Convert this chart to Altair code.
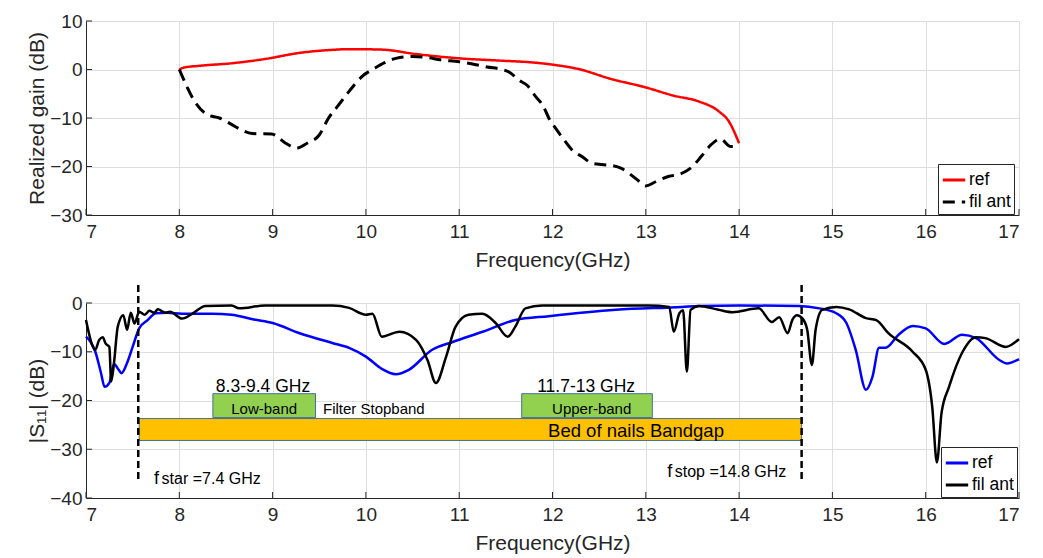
import altair as alt
import pandas as pd

FONT = "Liberation Sans"
W = 933
H1 = 194
H2 = 195

# ---------------- data: realized gain (top panel) ----------------
ref_gain_f = [8.0, 8.05, 8.21, 8.57, 8.93, 9.28, 9.64, 9.82, 10.17, 10.53, 11.0, 11.42,
              11.82, 12.0, 12.3, 12.6, 13.0, 13.3, 13.57, 13.78, 13.89, 14.0]
ref_gain = [0.0, 0.4, 0.75, 1.3, 2.2, 3.4, 4.05, 4.2, 4.1, 3.2, 2.3, 1.85,
            1.4, 1.0, 0.0, -1.8, -3.7, -5.4, -6.6, -8.6, -10.7, -15.2]

fil_gain_f = [8.0, 8.18, 8.3, 8.43, 8.55, 8.66, 8.78, 8.99, 9.14, 9.26, 9.37, 9.5, 9.6,
              9.7, 9.82, 9.96, 10.09, 10.2, 10.32, 10.5, 10.65, 10.8, 11.0, 11.13, 11.3,
              11.46, 11.55, 11.64, 11.73, 11.82, 11.9, 11.96, 12.04, 12.12, 12.2, 12.32,
              12.42, 12.53, 12.64, 12.74, 12.9, 13.0, 13.12, 13.25, 13.36, 13.5, 13.6,
              13.7, 13.8, 13.91, 14.0]
fil_gain = [0.0, -7.0, -9.3, -10.0, -11.2, -12.4, -13.2, -13.3, -15.2, -16.2, -15.2, -13.5,
            -10.0, -7.5, -4.5, -1.4, 0.2, 1.4, 2.3, 2.7, 2.5, 2.0, 1.6, 1.2, 0.5,
            0.0, -0.7, -2.2, -3.3, -5.6, -7.5, -10.0, -12.3, -14.4, -16.4, -18.0,
            -19.3, -19.6, -19.8, -20.4, -22.6, -24.0, -23.0, -22.0, -21.6, -20.0, -17.8,
            -15.5, -14.3, -15.9, -15.8]

# ---------------- data: |S11| (bottom panel) ----------------
ref_s11_f = [7.0, 7.05, 7.1, 7.16, 7.2, 7.25, 7.3, 7.35, 7.38, 7.44, 7.5, 7.57, 7.66, 7.75,
             7.86, 8.03, 8.35, 8.56, 8.8, 9.0, 9.29, 9.64, 9.82, 10.0, 10.17, 10.32, 10.46,
             10.71, 10.93, 11.25, 11.6, 11.96, 12.68, 13.39, 13.57, 14.0, 14.64, 14.86,
             15.04, 15.15, 15.25, 15.36, 15.43, 15.5, 15.57, 15.71, 15.86, 16.0, 16.2,
             16.39, 16.54, 16.79, 16.87, 17.0]
ref_s11 = [-6.9, -8.0, -10.0, -14.3, -17.2, -16.4, -12.5, -13.7, -14.4, -12.3, -9.0, -5.2,
           -3.5, -2.1, -2.0, -2.2, -2.2, -2.4, -3.4, -4.1, -6.2, -8.2, -9.2, -11.0, -13.5,
           -14.6, -13.7, -9.6, -8.0, -5.9, -3.5, -2.7, -1.4, -0.8, -0.6, -0.5, -0.6, -1.1,
           -2.1, -4.1, -9.6, -17.8, -15.1, -9.2, -9.2, -6.5, -4.7, -5.2, -8.4, -6.5, -7.2,
           -11.7, -12.4, -11.5]

fil_s11_f = [7.0, 7.1, 7.14, 7.18, 7.21, 7.25, 7.27, 7.3, 7.34, 7.4, 7.44, 7.48, 7.52,
             7.57, 7.63, 7.68, 7.73, 7.77, 7.85, 7.9, 8.03, 8.14, 8.28, 8.56, 8.64, 8.92,
             9.64, 9.82, 10.0, 10.07, 10.17, 10.36, 10.54, 10.66, 10.75, 10.86, 10.96,
             11.1, 11.25, 11.39, 11.52, 11.6, 11.71, 11.89, 13.03, 13.25, 13.3, 13.36,
             13.4, 13.44, 13.48, 13.57, 13.78, 13.93, 14.21, 14.35, 14.43, 14.52, 14.57,
             14.62, 14.68, 14.73, 14.78, 14.82, 14.89, 15.04, 15.18, 15.36, 15.47, 15.6,
             15.86, 16.0, 16.07, 16.12, 16.17, 16.25, 16.39, 16.54, 16.64, 16.86, 17.0]
fil_s11 = [-3.5, -9.6, -7.6, -7.0, -8.3, -9.0, -16.1, -12.3, -4.9, -2.5, -5.5, -2.0, -4.2,
           -1.8, -2.4, -1.6, -2.0, -1.3, -2.0, -1.8, -3.2, -2.2, -0.6, -0.5, -1.1, -0.5,
           -0.5, -1.0, -2.4, -2.2, -6.9, -5.9, -7.6, -11.7, -16.4, -11.0, -4.9,
           -2.4, -2.2, -4.1, -6.9, -4.9, -1.1, -0.5, -0.5, -0.8, -5.9, -2.1,
           -1.5, -14.1, -1.4, -0.6, -1.4, -1.9, -1.1, -3.9, -2.9, -6.2, -3.5,
           -2.5, -3.2, -5.5, -12.7, -5.5, -1.4, -0.8, -1.3, -3.1, -3.5, -6.2,
           -10.0, -13.7, -21.3, -32.7, -22.5, -17.2, -10.2, -7.0, -7.2, -9.0, -7.4]

series_names = ["ref", "fil ant"]
x_ticks = [7, 8, 9, 10, 11, 12, 13, 14, 15, 16, 17]
y_ticks_top = [-30, -20, -10, 0, 10]
y_ticks_bot = [-40, -30, -20, -10, 0]

# ---------------- annotations (bottom panel) ----------------
band_x1 = [8.36, 11.67]
band_x2 = [9.46, 13.07]
band_y1 = [-18.6, -18.6]
band_y2 = [-23.5, -23.5]
gap_x1, gap_x2, gap_y1, gap_y2 = [7.57], [14.67], [-23.7], [-28.2]
edge_x = [7.56, 14.67]
edge_y1, edge_y2 = 3.7, -36.2

center_txt = ["8.3-9.4 GHz", "Low-band", "11.7-13 GHz", "Upper-band", "Bed of nails Bandgap"]
center_x = [8.897, 8.91, 12.36, 12.42, 12.895]
center_y = [-17.2, -21.7, -17.2, -21.7, -26.2]
center_sz = [17.5, 15, 17.5, 15, 18.5]

left_txt = ["Filter Stopband", "f", "star =7.4 GHz", "f", "stop =14.8 GHz"]
left_x = [9.54, 7.73, 7.81, 13.23, 13.31]
left_y = [-21.7, -36.0, -36.0, -34.6, -34.6]
left_sz = [15, 18, 16, 18, 16]

# ---------------- frames ----------------
gain_df = pd.concat([
    pd.DataFrame({"f": ref_gain_f, "v": ref_gain, "series": "ref"}),
    pd.DataFrame({"f": fil_gain_f, "v": fil_gain, "series": "fil ant"}),
])
s11_df = pd.concat([
    pd.DataFrame({"f": ref_s11_f, "v": ref_s11, "series": "ref"}),
    pd.DataFrame({"f": fil_s11_f, "v": fil_s11, "series": "fil ant"}),
])

AX = "#262626"


def x_enc(title):
    return alt.X("f:Q", scale=alt.Scale(domain=[7, 17], nice=False, zero=False),
                 axis=alt.Axis(values=x_ticks, title=title, format="d"))


def tick_layers(yvals, height):
    xt = alt.Chart(pd.DataFrame({"t": x_ticks})).mark_rule(color=AX, strokeWidth=1).encode(
        x=alt.X("t:Q", scale=alt.Scale(domain=[7, 17], nice=False)),
        y=alt.value(height), y2=alt.value(height - 6))
    yt = alt.Chart(pd.DataFrame({"t": yvals})).mark_rule(color=AX, strokeWidth=1).encode(
        y=alt.Y("t:Q"), x=alt.value(0), x2=alt.value(6))
    return xt, yt


def legend(lx, ly):
    return alt.Legend(title=None, orient="none", legendX=lx, legendY=ly,
                      strokeColor=AX, fillColor="white", padding=3, cornerRadius=0,
                      symbolType="stroke", symbolSize=500, symbolStrokeWidth=3,
                      labelFontSize=17.5, labelFont=FONT, labelColor="black",
                      rowPadding=0, labelOffset=2)


# ---------------- top panel ----------------
ytop = alt.Y("v:Q", scale=alt.Scale(domain=[-30, 10], nice=False),
             axis=alt.Axis(values=y_ticks_top, title="Realized gain (dB)"))
col_top = alt.Color("series:N", scale=alt.Scale(domain=series_names, range=["#ff0000", "#000000"]),
                    legend=legend(852, 143))
dash_top = alt.StrokeDash("series:N", scale=alt.Scale(domain=series_names, range=[[1, 0], [12, 7]]),
                          legend=legend(852, 143))

base_top = alt.Chart(gain_df).encode(x=x_enc("Frequency(GHz)"), y=ytop, color=col_top,
                                     strokeDash=dash_top)
top_ref = base_top.transform_filter(alt.datum.series == "ref").mark_line(
    strokeWidth=2.5, interpolate="monotone")
top_fil = base_top.transform_filter(alt.datum.series == "fil ant").mark_line(
    strokeWidth=3, interpolate="monotone")
xt1, yt1 = tick_layers(y_ticks_top, H1)
top = alt.layer(xt1, yt1, top_ref, top_fil).properties(width=W, height=H1)

# ---------------- bottom panel ----------------
ybot = alt.Y("v:Q", scale=alt.Scale(domain=[-40, 0], nice=False),
             axis=alt.Axis(values=y_ticks_bot, title="|S\u2081\u2081| (dB)"))
col_bot = alt.Color("series:N", scale=alt.Scale(domain=series_names, range=["#0000ff", "#000000"]),
                    legend=legend(855, 144))
base_bot = alt.Chart(s11_df).encode(x=x_enc("Frequency(GHz)"), y=ybot, color=col_bot)
bot_ref = base_bot.transform_filter(alt.datum.series == "ref").mark_line(
    strokeWidth=2.5, interpolate="monotone")
bot_fil = base_bot.transform_filter(alt.datum.series == "fil ant").mark_line(
    strokeWidth=2.5, interpolate="monotone")

gap = alt.Chart(pd.DataFrame({"x1": gap_x1, "x2": gap_x2, "y1": gap_y1, "y2": gap_y2})).mark_rect(
    fill="#ffc000", stroke="#41719c", strokeWidth=1).encode(
    x="x1:Q", x2="x2:Q", y="y1:Q", y2="y2:Q")
bands = alt.Chart(pd.DataFrame({"x1": band_x1, "x2": band_x2, "y1": band_y1, "y2": band_y2})).mark_rect(
    fill="#92d050", stroke="#41719c", strokeWidth=1).encode(
    x="x1:Q", x2="x2:Q", y="y1:Q", y2="y2:Q")
edges = alt.Chart(pd.DataFrame({"x": edge_x, "y1": edge_y1, "y2": edge_y2})).mark_rule(
    color="black", strokeWidth=2.5, strokeDash=[7, 4], clip=False).encode(
    x="x:Q", y="y1:Q", y2="y2:Q")
ctext = alt.Chart(pd.DataFrame({"t": center_txt, "x": center_x, "y": center_y, "s": center_sz})).mark_text(
    align="center", baseline="middle", font=FONT, color="black").encode(
    x="x:Q", y="y:Q", text="t:N", size=alt.Size("s:Q", scale=None, legend=None))
ltext = alt.Chart(pd.DataFrame({"t": left_txt, "x": left_x, "y": left_y, "s": left_sz})).mark_text(
    align="left", baseline="middle", font=FONT, color="black").encode(
    x="x:Q", y="y:Q", text="t:N", size=alt.Size("s:Q", scale=None, legend=None))

xt2, yt2 = tick_layers(y_ticks_bot, H2)
bottom = alt.layer(xt2, yt2, bot_ref, bot_fil, gap, bands, ctext, ltext, edges).properties(
    width=W, height=H2)

chart = alt.vconcat(top, bottom, spacing=13).resolve_scale(
    color="independent", strokeDash="independent", size="independent"
).properties(padding={"left": 18, "top": 4, "right": 5, "bottom": 5}).configure_view(
    stroke=None
).configure_axis(
    labelFont=FONT, labelFontSize=19, labelColor=AX, titleFont=FONT, titleFontSize=21,
    titleFontWeight="normal", titleColor=AX, domainColor=AX, domainWidth=1,
    gridColor="#dedede", gridWidth=1, ticks=False, tickSize=0, labelPadding=4,
    titlePadding=2
).configure_axisX(labelPadding=7, titlePadding=8)

chart.save("out.html", embed_options={"renderer": "svg", "actions": False})
